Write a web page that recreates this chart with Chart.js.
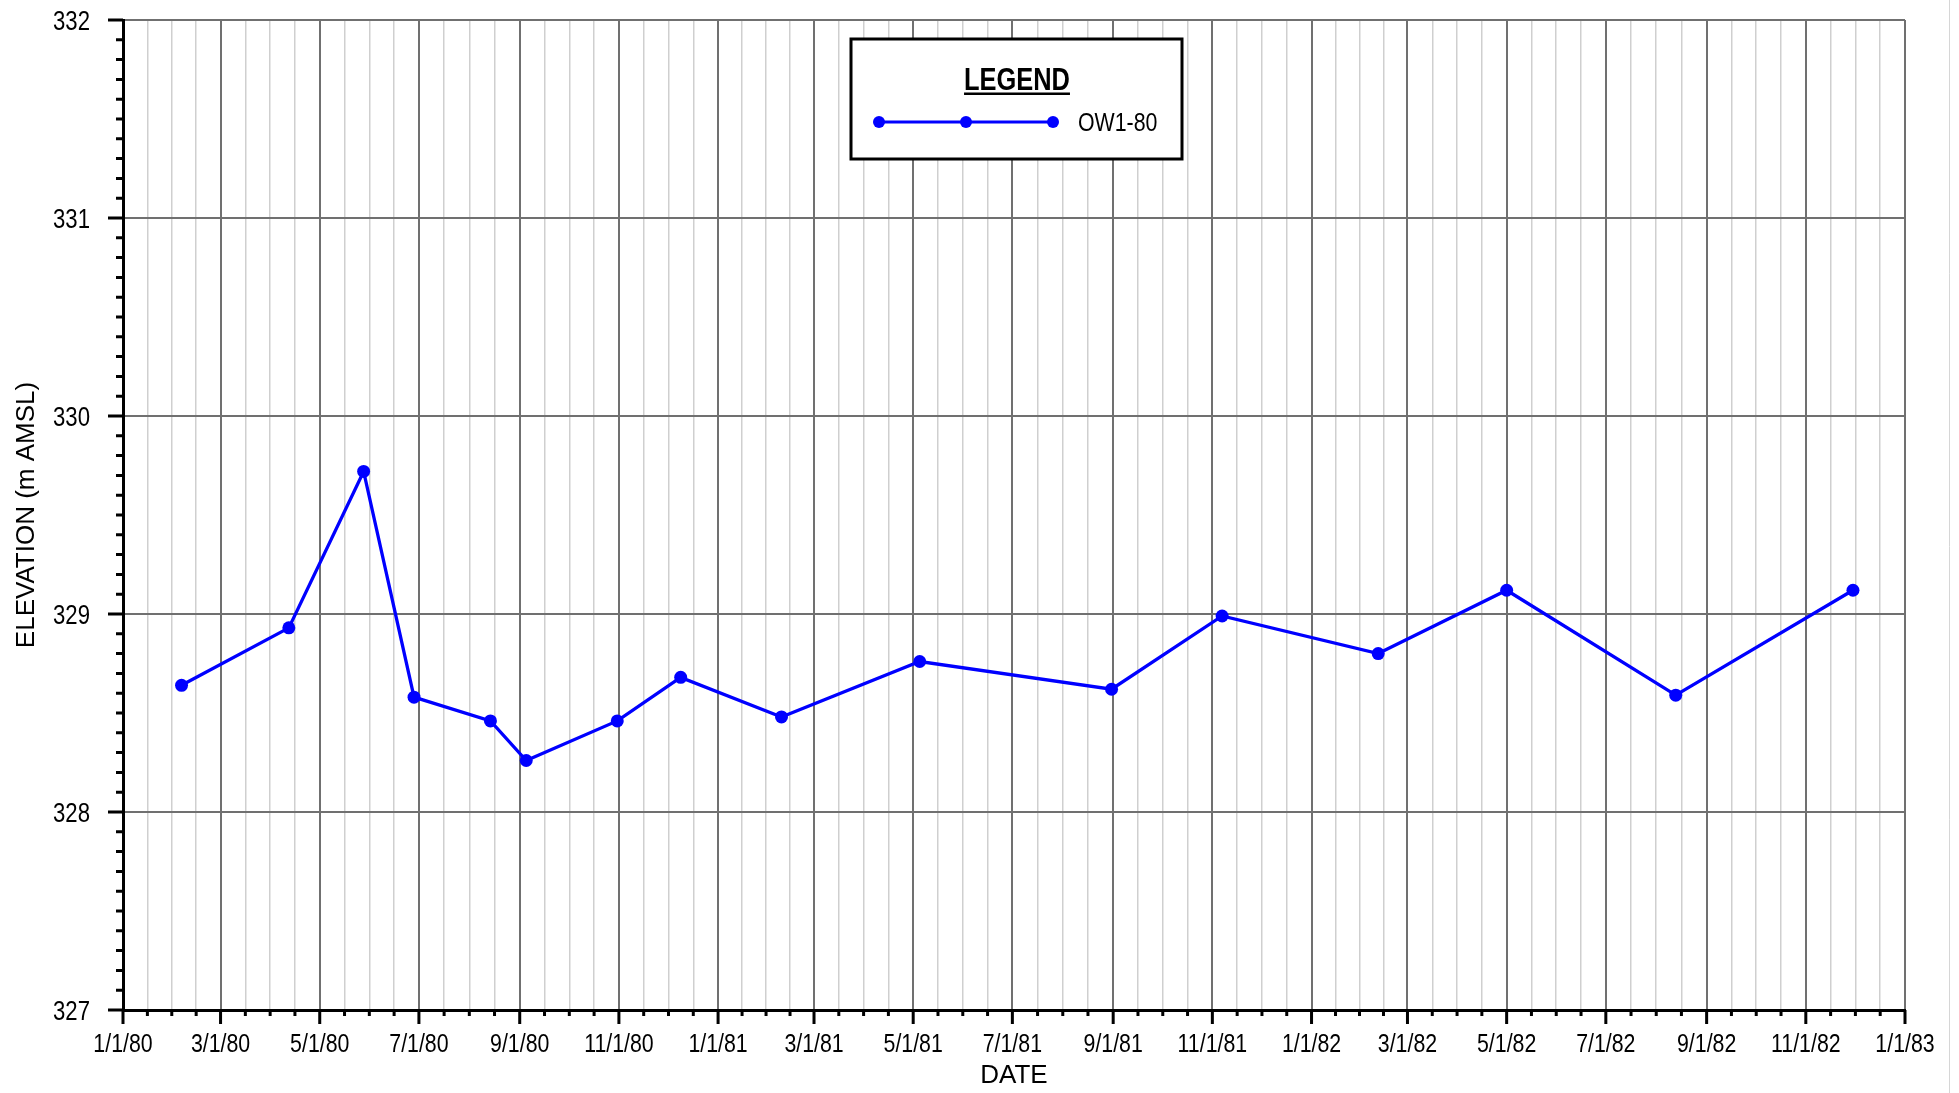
<!DOCTYPE html>
<html>
<head>
<meta charset="utf-8">
<title>OW1-80 Elevation</title>
<script src="https://cdn.jsdelivr.net/npm/chart.js@4.4.1/dist/chart.umd.min.js"></script>
<style>
  html, body { margin: 0; padding: 0; background: #fff; }
  canvas { display: block; }
</style>
</head>
<body>
<canvas id="elevationChart" width="1959" height="1093"></canvas>
<script>
// OW1-80 water level readings (date, elevation in m AMSL)
const sampleDates = ['1980-02-06', '1980-04-12', '1980-05-28', '1980-06-28', '1980-08-14', '1980-09-05',
  '1980-10-31', '1980-12-09', '1981-02-09', '1981-05-05', '1981-08-31', '1981-11-07',
  '1982-02-11', '1982-05-01', '1982-08-13', '1982-11-30'];
const elevations = [328.64, 328.93, 329.72, 328.58, 328.46, 328.26,
  328.46, 328.68, 328.48, 328.76, 328.62, 328.99,
  328.80, 329.12, 328.59, 329.12];
const dateTickLabels = ['1/1/80', '3/1/80', '5/1/80', '7/1/80', '9/1/80', '11/1/80',
  '1/1/81', '3/1/81', '5/1/81', '7/1/81', '9/1/81', '11/1/81',
  '1/1/82', '3/1/82', '5/1/82', '7/1/82', '9/1/82', '11/1/82', '1/1/83'];
const elevationTicks = [327, 328, 329, 330, 331, 332];
const seriesName = 'OW1-80';

const REGULAR = "'Liberation Sans', Arial, sans-serif";
const NARROW_SCALE = 0.82; // Arial Narrow look, no narrow face installed
const DARK_GRID = '#707070';
const LIGHT_GRID = '#cfcfcf';

function parseTickDate(label) {
  const [m, d, y] = label.split('/').map(Number);
  return Date.UTC(1900 + y, m - 1, d);
}
function parseIsoDate(s) {
  const [y, m, d] = s.split('-').map(Number);
  return Date.UTC(y, m - 1, d);
}

// major ticks every two months, 3 minor ticks in between
const majorTicks = dateTickLabels.map(parseTickDate);
const xTicks = [];
majorTicks.forEach((v, i) => {
  xTicks.push({ value: v, major: true, label: dateTickLabels[i] });
  if (i < majorTicks.length - 1) {
    const step = (majorTicks[i + 1] - v) / 4;
    for (let k = 1; k < 4; k++) xTicks.push({ value: v + step * k, major: false, label: '' });
  }
});

const yMin = elevationTicks[0];
const yMax = elevationTicks[elevationTicks.length - 1];
const yTicks = [];
for (let i = 0; i <= (yMax - yMin) * 10; i++) {
  yTicks.push({ value: yMin + i / 10, major: i % 10 === 0 });
}

const points = sampleDates.map((d, i) => ({ x: parseIsoDate(d), y: elevations[i] }));

function narrowText(ctx, text, x, y, size, align, bold) {
  ctx.save();
  ctx.font = (bold ? 'bold ' : '') + size + 'px ' + REGULAR;
  const w = ctx.measureText(text).width * NARROW_SCALE;
  const left = align === 'center' ? x - w / 2 : align === 'right' ? x - w : x;
  ctx.translate(left, y);
  ctx.scale(NARROW_SCALE, 1);
  ctx.textAlign = 'left';
  ctx.textBaseline = 'alphabetic';
  ctx.fillText(text, 0, 0);
  ctx.restore();
  return { left, width: w };
}

const axisTicksPlugin = {
  id: 'axisTicks',
  afterDraw(chart) {
    const { ctx, scales: { x, y } } = chart;
    ctx.save();
    ctx.strokeStyle = '#000';
    ctx.lineWidth = 3;
    ctx.beginPath();
    xTicks.forEach(t => {
      const px = x.getPixelForValue(t.value);
      ctx.moveTo(px, x.top);
      ctx.lineTo(px, x.top + (t.major ? 14 : 6));
    });
    yTicks.forEach(t => {
      const py = y.getPixelForValue(t.value);
      ctx.moveTo(y.right, py);
      ctx.lineTo(y.right - (t.major ? 15 : 7), py);
    });
    ctx.stroke();

    // tick labels
    ctx.fillStyle = '#000';
    xTicks.forEach(t => {
      if (t.major) narrowText(ctx, t.label, x.getPixelForValue(t.value), x.top + 42, 26, 'center');
    });
    elevationTicks.forEach(v => {
      narrowText(ctx, String(v), y.right - 33, y.getPixelForValue(v) + 9.7, 27, 'right');
    });

    // faint frame line at right edge
    ctx.strokeStyle = '#d6d6d6';
    ctx.lineWidth = 1;
    ctx.beginPath();
    ctx.moveTo(1949.5, 0);
    ctx.lineTo(1949.5, chart.height);
    ctx.stroke();
    ctx.restore();
  }
};

const legendBoxPlugin = {
  id: 'legendBox',
  afterDraw(chart) {
    const ctx = chart.ctx;
    const bx = 851, by = 39, bw = 331, bh = 120;
    ctx.save();
    ctx.fillStyle = '#fff';
    ctx.fillRect(bx, by, bw, bh);
    ctx.strokeStyle = '#000';
    ctx.lineWidth = 3;
    ctx.strokeRect(bx, by, bw, bh);

    ctx.fillStyle = '#000';
    const t = narrowText(ctx, 'LEGEND', 1017, 90, 31, 'center', true);
    ctx.fillRect(t.left, 92.5, t.width, 2.5);

    const ly = 122;
    ctx.strokeStyle = '#0000ff';
    ctx.fillStyle = '#0000ff';
    ctx.lineWidth = 3;
    ctx.beginPath();
    ctx.moveTo(879, ly);
    ctx.lineTo(1053, ly);
    ctx.stroke();
    [879, 966, 1053].forEach(cx => {
      ctx.beginPath();
      ctx.arc(cx, ly, 6, 0, Math.PI * 2);
      ctx.fill();
    });

    ctx.fillStyle = '#000';
    narrowText(ctx, seriesName, 1078, 131, 26, 'left');
    ctx.restore();
  }
};

new Chart(document.getElementById('elevationChart').getContext('2d'), {
  type: 'line',
  data: {
    datasets: [{
      label: seriesName,
      data: points,
      borderColor: '#0000ff',
      backgroundColor: '#0000ff',
      borderWidth: 3.3,
      pointRadius: 6.5,
      pointBorderWidth: 0,
      pointBackgroundColor: '#0000ff',
      tension: 0,
      fill: false
    }]
  },
  options: {
    responsive: false,
    animation: false,
    devicePixelRatio: 1,
    layout: { padding: { left: 0, top: 20, right: 54, bottom: 0 } },
    plugins: {
      legend: { display: false },
      tooltip: { enabled: false }
    },
    scales: {
      x: {
        type: 'linear',
        min: majorTicks[0],
        max: majorTicks[majorTicks.length - 1],
        afterBuildTicks: scale => { scale.ticks = xTicks.map(t => ({ value: t.value })); },
        afterFit: scale => {
          scale.height = 83;
          scale.paddingLeft = 0; scale.paddingRight = 0;
          scale.paddingTop = 0; scale.paddingBottom = 0;
        },
        border: { color: '#000', width: 3 },
        grid: {
          drawTicks: false,
          color: c => (xTicks[c.index] && xTicks[c.index].major) ? DARK_GRID : LIGHT_GRID,
          lineWidth: c => (xTicks[c.index] && xTicks[c.index].major) ? 2 : 1.5
        },
        ticks: { display: false, autoSkip: false, maxRotation: 0 },
        title: {
          display: true,
          text: 'DATE',
          color: '#000',
          font: { family: REGULAR, size: 26 },
          padding: { top: 0, bottom: 2 }
        }
      },
      y: {
        min: yMin,
        max: yMax,
        afterBuildTicks: scale => { scale.ticks = yTicks.map(t => ({ value: t.value })); },
        afterFit: scale => {
          scale.width = 123;
          scale.paddingLeft = 0; scale.paddingRight = 0;
          scale.paddingTop = 0; scale.paddingBottom = 0;
        },
        border: { color: '#000', width: 3 },
        grid: {
          drawTicks: false,
          color: c => (yTicks[c.index] && yTicks[c.index].major) ? DARK_GRID : 'rgba(0,0,0,0)',
          lineWidth: 2
        },
        ticks: { display: false, autoSkip: false },
        title: {
          display: true,
          text: 'ELEVATION (m AMSL)',
          color: '#000',
          font: { family: REGULAR, size: 26 },
          padding: { top: 11, bottom: 0 }
        }
      }
    }
  },
  plugins: [axisTicksPlugin, legendBoxPlugin]
});
</script>
</body>
</html>
